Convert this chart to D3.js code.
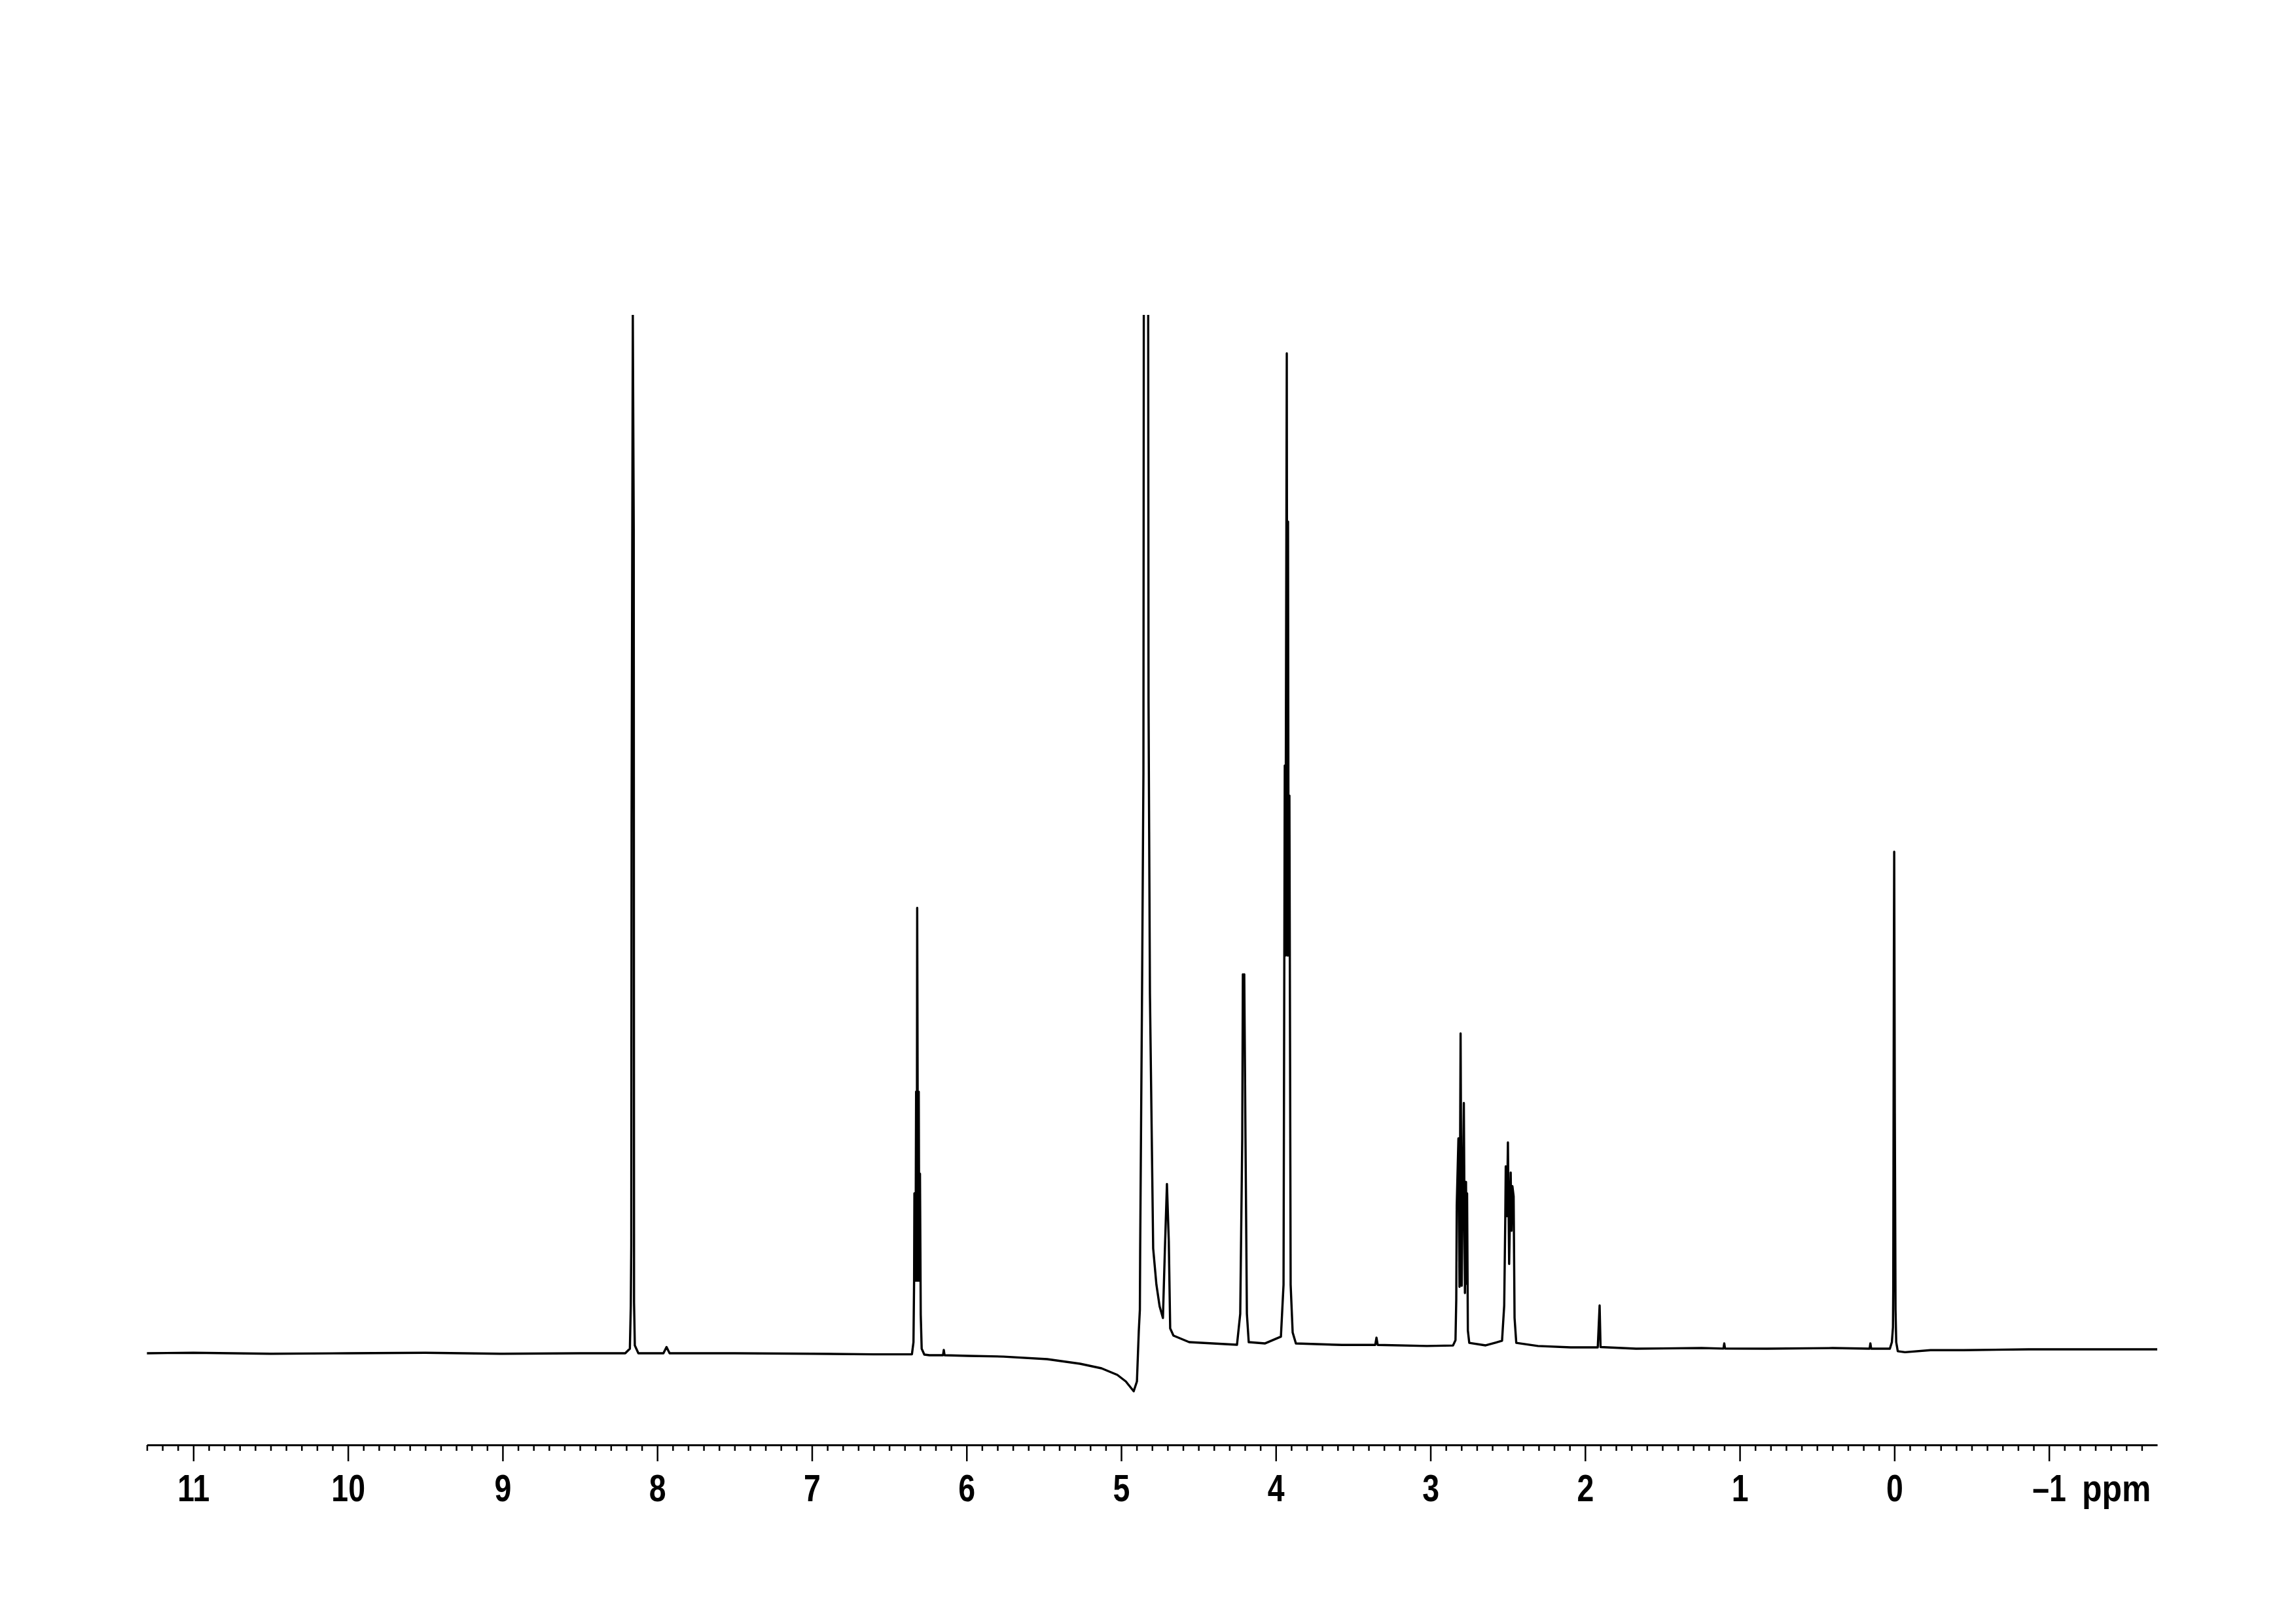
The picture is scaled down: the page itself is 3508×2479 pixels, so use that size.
<!DOCTYPE html>
<head>
  <meta charset="utf-8">
  <title>1H NMR spectrum</title>
  <script src="https://cdn.jsdelivr.net/npm/d3@7/dist/d3.min.js"></script>
  <style>
    body { margin: 0; background: #fff; }
    .axis text, .unit { font-family: "Liberation Sans", Arial, sans-serif; font-weight: bold; font-size: 58px; fill: #000; }
    .axis path, .axis line { stroke: #000; }
  </style>
</head>
<body>
<div id="container"></div>
<script>

  // spectrum trace, [ppm, intensity in % of full scale]
  let baseLeft = [[11.30, 0.0], [11.0, 0.05], [10.5, -0.05], [10.0, 0.0], [9.5, 0.05], [9.0, -0.05], [8.5, 0.0], [8.207, 0.0]];
  let peak817 = [[8.177, 0.44], [8.171, 4.6], [8.168, 10.4], [8.166, 51.1], [8.158, 100], [8.152, 79.4], [8.150, 4.9], [8.145, 0.76], [8.122, 0.0]];
  let baseAromatic = [[7.96, 0.0], [7.94, 0.6], [7.92, 0.0], [7.5, 0.0], [7.0, -0.05], [6.6, -0.1], [6.353, -0.1]];
  let peak632 = [[6.343, 1.07], [6.339, 7.0], [6.337, 15.4], [6.330, 7.0], [6.326, 25.2], [6.322, 7.0], [6.319, 42.9], [6.313, 7.0], [6.309, 25.2], [6.305, 7.0], [6.301, 17.3], [6.296, 3.7], [6.290, 0.44]];
  let baseDip = [[6.273, -0.13], [6.24, -0.19], [6.152, -0.19], [6.147, 0.32], [6.142, -0.19], [5.985, -0.25], [5.761, -0.32], [5.478, -0.57], [5.266, -1.01], [5.127, -1.45], [5.025, -2.08], [4.970, -2.71], [4.919, -3.66], [4.898, -2.71], [4.886, 2.14], [4.879, 4.2]];
  let peakWater = [[4.877, 10.1], [4.865, 34.7], [4.856, 55.9], [4.852, 130], [4.827, 130], [4.823, 62.9], [4.814, 34.7], [4.802, 20.7], [4.793, 10.1], [4.772, 6.6], [4.751, 4.5], [4.730, 3.4], [4.717, 10.1], [4.704, 16.3], [4.692, 10.8], [4.683, 2.4], [4.662, 1.7], [4.560, 1.07], [4.251, 0.82]];
  let peak421 = [[4.230, 3.8], [4.217, 20.7], [4.213, 36.5], [4.209, 35.1], [4.204, 36.5], [4.196, 20.7], [4.187, 3.8], [4.175, 1.07], [4.069, 0.95], [3.967, 1.6]];
  let peak393 = [[3.950, 6.6], [3.942, 56.6], [3.938, 38.3], [3.929, 96.3], [3.925, 38.3], [3.921, 80.1], [3.917, 38.3], [3.912, 53.7], [3.904, 6.6], [3.891, 2.0], [3.870, 0.95]];
  let baseMid = [[3.573, 0.8], [3.357, 0.8], [3.349, 1.5], [3.341, 0.8], [3.023, 0.7], [2.854, 0.75]];
  let peak280 = [[2.838, 1.26], [2.833, 5.2], [2.830, 14.2], [2.819, 20.7], [2.812, 6.4], [2.805, 30.8], [2.798, 6.5], [2.784, 24.1], [2.777, 5.8], [2.770, 16.5], [2.765, 6.7], [2.763, 15.4], [2.758, 2.2], [2.749, 1.0], [2.643, 0.76], [2.537, 1.2]];
  let peak250 = [[2.523, 4.6], [2.516, 13.0], [2.513, 18.0], [2.505, 13.2], [2.499, 20.3], [2.491, 8.6], [2.481, 17.4], [2.476, 11.8], [2.470, 16.1], [2.462, 15.1], [2.456, 3.4], [2.445, 1.0]];
  let baseHigh = [[2.305, 0.7], [2.093, 0.57], [1.918, 0.57], [1.906, 4.6], [1.900, 0.6], [1.670, 0.44], [1.247, 0.5], [1.105, 0.45], [1.100, 0.95], [1.095, 0.45], [0.824, 0.44], [0.400, 0.5], [0.160, 0.44], [0.155, 0.95], [0.150, 0.44], [0.029, 0.44]];
  let peak000 = [[0.016, 1.07], [0.009, 2.5], [0.0072, 6.2], [0.003, 38.9], [0.001, 48.3], [-0.003, 23.1], [-0.0076, 4.2], [-0.012, 1.07]];
  let baseRight = [[-0.022, 0.2], [-0.069, 0.1], [-0.234, 0.3], [-0.445, 0.3], [-0.868, 0.38], [-1.29, 0.38], [-1.70, 0.38]];

  let majorTicks = [11, 10, 9, 8, 7, 6, 5, 4, 3, 2, 1, 0, -1];
  let majorLabels = ["11", "10", "9", "8", "7", "6", "5", "4", "3", "2", "1", "0", "\u20131"];
  let unitLabel = "ppm";

  let svg_width = 3508;
  let svg_height = 2479;

  let plot = {left: 224.5, right: 3296, top: 481, baseline: 2067, axisY: 2207};

  let xScale = d3.scaleLinear()
          .domain([11.3, -1.7])
          .range([plot.left, plot.right]);

  let yScale = d3.scaleLinear()
          .domain([0, 100])
          .range([plot.baseline, plot.top]);

  let svg = d3.select("#container").append("svg")
          .attr("width", svg_width)
          .attr("height", svg_height)
          .style("display", "block");

  svg.append("defs").append("clipPath")
          .attr("id", "clip")
          .append("rect")
          .attr("x", 0)
          .attr("y", plot.top)
          .attr("width", svg_width)
          .attr("height", svg_height - plot.top);

  let trace = [].concat(baseLeft, peak817, baseAromatic, peak632, baseDip, peakWater, peak421,
          peak393, baseMid, peak280, peak250, baseHigh, peak000, baseRight)
          .sort(function (a, b) { return b[0] - a[0]; });

  svg.append("path")
          .datum(trace)
          .attr("clip-path", "url(#clip)")
          .attr("fill", "none")
          .attr("stroke", "#000")
          .attr("stroke-width", 3.4)
          .attr("stroke-linejoin", "round")
          .attr("d", d3.line()
                  .x(function (d) { return xScale(d[0]); })
                  .y(function (d) { return yScale(d[1]); }));

  // minor ticks every 0.1 ppm
  let minorTicks = d3.range(-16, 114).map(function (i) { return i / 10; })
          .filter(function (v) { return Math.abs(v - Math.round(v)) > 1e-6; });

  svg.append("g")
          .attr("class", "axis")
          .attr("transform", "translate(0," + plot.axisY + ")")
          .call(d3.axisBottom(xScale).tickValues(minorTicks).tickSize(9).tickSizeOuter(0).tickFormat(""))
          .call(function (g) {
            g.select(".domain").attr("stroke-width", 3);
            g.selectAll(".tick line").attr("stroke-width", 2.5);
          });

  svg.append("g")
          .attr("class", "axis")
          .attr("transform", "translate(0," + plot.axisY + ")")
          .call(d3.axisBottom(xScale).tickValues(majorTicks).tickSize(25).tickSizeOuter(0).tickPadding(0)
                  .tickFormat(function (d, i) { return majorLabels[i]; }))
          .call(function (g) {
            g.select(".domain").remove();
            g.selectAll(".tick line").attr("stroke-width", 2.5);
            // condensed look of the original lettering
            g.selectAll(".tick text")
                    .attr("y", null)
                    .attr("dy", null)
                    .attr("transform", "translate(0,86) scale(0.8,1)");
          });

  svg.append("text")
          .attr("class", "unit")
          .attr("transform", "translate(3181,2293) scale(0.86,1)")
          .attr("text-anchor", "start")
          .text(unitLabel);

</script>
</body>
